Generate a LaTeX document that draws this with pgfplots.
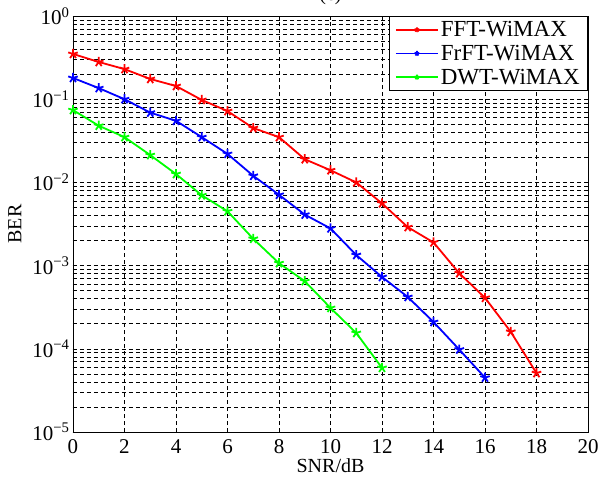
\documentclass[border=0pt]{standalone}
\usepackage{fontspec}
\setmainfont{Liberation Serif}
\usepackage{pgfplots}
\pgfplotsset{compat=1.18}
\definecolor{mred}{RGB}{255,0,0}
\definecolor{mblue}{RGB}{0,0,255}
\definecolor{mgreen}{RGB}{0,255,0}
\begin{document}
\begin{tikzpicture}
\begin{axis}[
  name=ax,
  scale only axis,
  width=515pt, height=416pt,
  ymode=log,
  xmin=0, xmax=20, ymin=1e-5, ymax=1,
  xtick={0,2,...,20},
  ytick={1e-5,1e-4,1e-3,1e-2,1e-1,1},
  yticklabels={10\textsuperscript{−5},10\textsuperscript{−4},10\textsuperscript{−3},10\textsuperscript{−2},10\textsuperscript{−1},10\textsuperscript{0}},
  /pgf/number format/assume math mode=true,
  grid=both,
  major grid style={black, line width=0.6pt, dash pattern=on 4pt off 3pt},
  minor grid style={black, line width=0.6pt, dash pattern=on 4pt off 3pt},
  axis line style={line width=0.9pt},
  tick align=inside,
  tick style={black, line width=0.6pt},
  tick label style={font=\fontsize{21}{25}\selectfont},
  xticklabel style={yshift=-4pt},
  label style={font=\fontsize{20}{24}\selectfont},
  xlabel={SNR/dB}, ylabel={BER},
  xlabel style={yshift=2pt},
  ylabel style={yshift=4pt},
  legend style={at={(1,1)}, anchor=north east, font=\fontsize{23}{27}\selectfont,
    draw=black, line width=0.8pt, fill=white, cells={anchor=west},
    inner xsep=6pt, inner ysep=3pt, row sep=3pt},
  legend image code/.code={\draw[mark repeat=2,mark phase=2,mark size=2.5pt] plot coordinates {(0pt,0pt)(21pt,0pt)(42pt,0pt)};},
  every axis plot/.append style={line width=1.8pt, mark=star, mark size=5pt, mark options={line width=1.8pt}},
]
\addplot[color=mred] coordinates {
(0,0.35) (1,0.28) (2,0.23) (3,0.175) (4,0.144) (5,0.098) (6,0.072) (7,0.045) (8,0.035)
(9,0.019) (10,0.014) (11,0.010) (12,0.0056) (13,0.0029) (14,0.0019) (15,0.00081)
(16,0.00041) (17,0.00016) (18,0.000051)};
\addplot[color=mblue] coordinates {
(0,0.18) (1,0.136) (2,0.100) (3,0.069) (4,0.055) (5,0.035) (6,0.022) (7,0.012) (8,0.0071)
(9,0.0041) (10,0.0028) (11,0.00134) (12,0.00073) (13,0.00042) (14,0.00021) (15,0.000098)
(16,0.000045)};
\addplot[color=mgreen] coordinates {
(0,0.074) (1,0.048) (2,0.035) (3,0.0213) (4,0.0126) (5,0.0070) (6,0.0045) (7,0.0021)
(8,0.00107) (9,0.00065) (10,0.00031) (11,0.000155) (12,0.000059)};
\legend{FFT-WiMAX, FrFT-WiMAX, DWT-WiMAX}
\end{axis}
\node[anchor=base, font=\fontsize{20}{24}\selectfont] at ([yshift=15pt]ax.north) {(c)};
\pgfresetboundingbox
\useasboundingbox ([xshift=-73pt,yshift=-50pt]ax.south west) rectangle ([xshift=14pt,yshift=16pt]ax.north east);
\end{tikzpicture}
\end{document}
